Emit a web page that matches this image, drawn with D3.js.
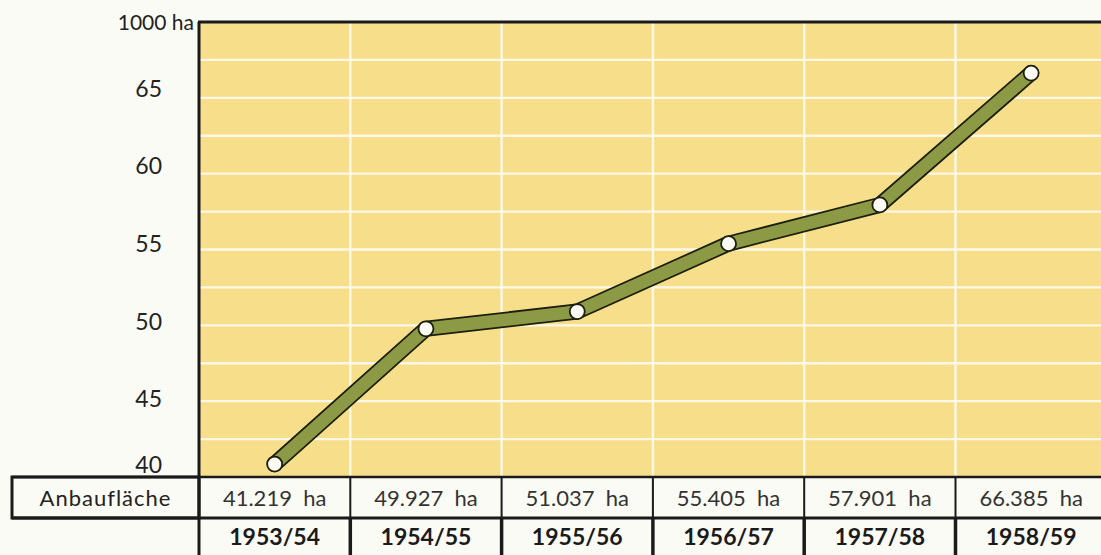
<!DOCTYPE html>
<html><head><meta charset="utf-8">
<script src="https://cdn.jsdelivr.net/npm/d3@7"></script>
<style>html,body{margin:0;padding:0;background:#fbfbf6;}svg{display:block;}</style>
</head><body>
<svg id="c" width="1101" height="555"></svg>
<script>
const years = ["1953/54","1954/55","1955/56","1956/57","1957/58","1958/59"];
const values = [41.219, 49.927, 51.037, 55.405, 57.901, 66.385];
const valueLabels = ["41.219  ha","49.927  ha","51.037  ha","55.405  ha","57.901  ha","66.385  ha"];
const yTicks = [40, 45, 50, 55, 60, 65];
const unitLabel = "1000 ha";
const rowLabel = "Anbaufläche";

const W = 1101, H = 555;
const plotLeft = 199, plotTop = 22, plotBottom = 477, row1 = 518, tableLeft = 12;
const svg = d3.select("#c");
const font = "Lato, 'Noto Sans', sans-serif";

const x = d3.scaleBand().domain(years).range([plotLeft, plotLeft + 6 * 151.3]).padding(0);
const y = d3.scaleLinear().domain([40, 68]).range([483, 48]);
const gridY = d3.scaleLinear().domain([0, 12]).range([plotTop, plotBottom]);

svg.append("rect").attr("width", W).attr("height", H).attr("fill", "#fbfbf6");
svg.append("rect").attr("x", plotLeft).attr("y", plotTop).attr("width", W - plotLeft).attr("height", plotBottom - plotTop).attr("fill", "#f7de8b");

// grid
svg.append("g").selectAll("line").data(d3.range(1, 12)).join("line")
  .attr("x1", plotLeft).attr("x2", W).attr("y1", d => gridY(d)).attr("y2", d => gridY(d))
  .attr("stroke", "#fdf8e8").attr("stroke-width", 2.4);
svg.append("g").selectAll("line").data(years.slice(1)).join("line")
  .attr("x1", d => x(d)).attr("x2", d => x(d)).attr("y1", plotTop).attr("y2", plotBottom)
  .attr("stroke", "#fdf8e8").attr("stroke-width", 2.4);

// borders
svg.append("line").attr("x1", plotLeft - 1).attr("x2", W).attr("y1", plotTop).attr("y2", plotTop).attr("stroke", "#1a1a1a").attr("stroke-width", 3);
svg.append("line").attr("x1", tableLeft).attr("x2", W).attr("y1", plotBottom).attr("y2", plotBottom).attr("stroke", "#1a1a1a").attr("stroke-width", 2.5);
svg.append("line").attr("x1", tableLeft).attr("x2", W).attr("y1", row1).attr("y2", row1).attr("stroke", "#1a1a1a").attr("stroke-width", 3);
svg.append("rect").attr("x", tableLeft).attr("y", plotBottom).attr("width", plotLeft - tableLeft).attr("height", row1 - plotBottom)
  .attr("fill", "none").attr("stroke", "#1a1a1a").attr("stroke-width", 3);
svg.append("line").attr("x1", plotLeft).attr("x2", plotLeft).attr("y1", plotTop).attr("y2", H).attr("stroke", "#1a1a1a").attr("stroke-width", 3);

// table separators
svg.append("g").selectAll("line").data(years.slice(1)).join("line")
  .attr("x1", d => x(d)).attr("x2", d => x(d)).attr("y1", plotBottom).attr("y2", row1)
  .attr("stroke", "#1a1a1a").attr("stroke-width", 2);
svg.append("g").selectAll("line").data(years.slice(1)).join("line")
  .attr("x1", d => x(d)).attr("x2", d => x(d)).attr("y1", row1).attr("y2", H)
  .attr("stroke", "#1a1a1a").attr("stroke-width", 3.5);

// y tick labels
svg.append("g").selectAll("text").data(yTicks).join("text")
  .attr("x", 162).attr("y", d => Math.min(y(d) + 2, plotBottom - 4))
  .attr("text-anchor", "end").attr("font-family", font).attr("font-size", 23).attr("fill", "#222")
  .text(d => d);
svg.append("text").attr("x", 194).attr("y", plotTop + 8).attr("text-anchor", "end")
  .attr("font-family", font).attr("font-size", 21).attr("fill", "#222").text(unitLabel);

// table text
svg.append("text").attr("x", (tableLeft + plotLeft) / 2).attr("y", (plotBottom + row1) / 2 + 8).attr("text-anchor", "middle")
  .attr("font-family", font).attr("font-size", 22).attr("letter-spacing", 1).attr("fill", "#222").text(rowLabel);
svg.append("g").selectAll("text").data(years).join("text")
  .attr("x", d => x(d) + x.bandwidth() / 2).attr("y", (plotBottom + row1) / 2 + 8).attr("text-anchor", "middle")
  .attr("font-family", font).attr("font-size", 22).attr("fill", "#333").style("white-space", "pre")
  .text((d, i) => valueLabels[i]);
svg.append("g").selectAll("text").data(years).join("text")
  .attr("x", d => x(d) + x.bandwidth() / 2).attr("y", (row1 + H) / 2 + 8).attr("text-anchor", "middle")
  .attr("font-family", font).attr("font-size", 23).attr("font-weight", "bold").attr("fill", "#1a1a1a")
  .text(d => d);

// line
const pts = years.map((d, i) => [x(d) + x.bandwidth() / 2, y(values[i])]);
const line = d3.line();
svg.append("path").attr("d", line(pts)).attr("fill", "none").attr("stroke", "#1c1f0e").attr("stroke-width", 16)
  .attr("stroke-linejoin", "round").attr("stroke-linecap", "round");
svg.append("path").attr("d", line(pts)).attr("fill", "none").attr("stroke", "#8d9a45").attr("stroke-width", 12.5)
  .attr("stroke-linejoin", "round").attr("stroke-linecap", "round");
svg.append("g").selectAll("circle").data(pts).join("circle")
  .attr("cx", d => d[0]).attr("cy", d => d[1]).attr("r", 7.5)
  .attr("fill", "#fbfbf4").attr("stroke", "#1c1f0e").attr("stroke-width", 1.8);
</script>
</body></html>
